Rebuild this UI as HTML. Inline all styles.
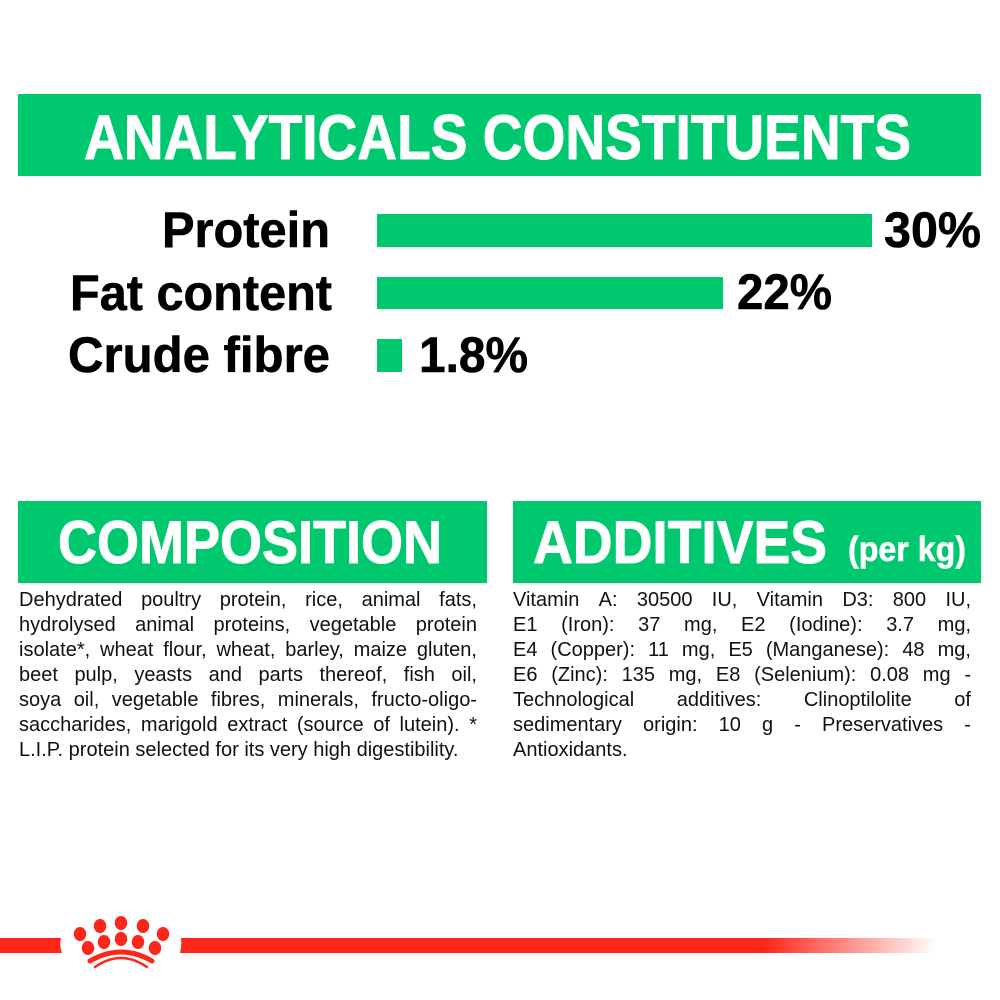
<!DOCTYPE html>
<html>
<head>
<meta charset="utf-8">
<style>
  html,body{margin:0;padding:0;background:#fff;}
  body{width:1000px;height:1000px;position:relative;overflow:hidden;font-family:"Liberation Sans",Arial,sans-serif;}
  svg{position:absolute;left:0;top:0;}
  .para{position:absolute;top:588px;width:458px;font-size:20px;line-height:25px;color:#111;}
  .ln{display:flex;justify-content:space-between;white-space:nowrap;height:25px;}
  .ln.last{justify-content:flex-start;}
</style>
</head>
<body>
<svg width="1000" height="1000" viewBox="0 0 1000 1000" xmlns="http://www.w3.org/2000/svg">
  <defs>
    <linearGradient id="fade" x1="180" y1="0" x2="937" y2="0" gradientUnits="userSpaceOnUse">
      <stop offset="0" stop-color="#fe2519" stop-opacity="1"/>
      <stop offset="0.771" stop-color="#fe2519" stop-opacity="1"/>
      <stop offset="1" stop-color="#fe2519" stop-opacity="0"/>
    </linearGradient>
  </defs>

  <!-- Header -->
  <rect x="18" y="94" width="963" height="82" fill="#00c86e"/>
  <text x="84" y="159" font-family="Liberation Sans, Arial, sans-serif" font-weight="bold" font-size="63" fill="#fff" stroke="#fff" stroke-width="1" stroke-linejoin="round" textLength="827" lengthAdjust="spacingAndGlyphs">ANALYTICALS CONSTITUENTS</text>

  <!-- Labels -->
  <g font-family="Liberation Sans, Arial, sans-serif" font-weight="bold" font-size="50" fill="#000" stroke="#000" stroke-width="0.6" stroke-linejoin="round">
    <text x="162" y="247" textLength="168" lengthAdjust="spacingAndGlyphs">Protein</text>
    <text x="70" y="310" textLength="262" lengthAdjust="spacingAndGlyphs">Fat content</text>
    <text x="68" y="372" textLength="262" lengthAdjust="spacingAndGlyphs">Crude fibre</text>
    <text x="884" y="247" textLength="97" lengthAdjust="spacingAndGlyphs">30%</text>
    <text x="737" y="309" textLength="95" lengthAdjust="spacingAndGlyphs">22%</text>
    <text x="419" y="372" textLength="109" lengthAdjust="spacingAndGlyphs">1.8%</text>
  </g>

  <!-- Bars -->
  <rect x="377" y="214" width="495" height="33" fill="#00c86e"/>
  <rect x="377" y="277" width="346" height="32" fill="#00c86e"/>
  <rect x="377" y="339" width="25" height="33" fill="#00c86e"/>

  <!-- Composition header -->
  <rect x="18" y="501" width="469" height="82" fill="#00c86e"/>
  <text x="58" y="563" font-family="Liberation Sans, Arial, sans-serif" font-weight="bold" font-size="60" fill="#fff" stroke="#fff" stroke-width="1" stroke-linejoin="round" textLength="384" lengthAdjust="spacingAndGlyphs">COMPOSITION</text>

  <!-- Additives header -->
  <rect x="513" y="501" width="468" height="82" fill="#00c86e"/>
  <text x="533" y="563" font-family="Liberation Sans, Arial, sans-serif" font-weight="bold" font-size="60" fill="#fff" stroke="#fff" stroke-width="1" stroke-linejoin="round" textLength="294" lengthAdjust="spacingAndGlyphs">ADDITIVES</text>
  <text x="848" y="561" font-family="Liberation Sans, Arial, sans-serif" font-weight="bold" font-size="35" fill="#fff" stroke="#fff" stroke-width="0.6" stroke-linejoin="round" textLength="118" lengthAdjust="spacingAndGlyphs">(per kg)</text>

  <!-- Footer bar -->
  <path d="M0 938 L61 938 Q59 945.5 62 953 L0 953 Z" fill="#fe2519"/>
  <path d="M181 938 L937 938 L937 953 L180 953 Q182 945.5 181 938 Z" fill="url(#fade)"/>

  <!-- Crown -->
  <g fill="#fe2519">
    <ellipse cx="121" cy="923" rx="6.2" ry="7"/>
    <ellipse cx="100" cy="926" rx="6.2" ry="7"/>
    <ellipse cx="143" cy="926" rx="6.2" ry="7"/>
    <ellipse cx="80" cy="934" rx="6.2" ry="7"/>
    <ellipse cx="163" cy="934" rx="6.2" ry="7"/>
    <ellipse cx="88" cy="948" rx="6.2" ry="7"/>
    <ellipse cx="104" cy="942" rx="6.2" ry="7"/>
    <ellipse cx="121" cy="939" rx="6.2" ry="7"/>
    <ellipse cx="138" cy="942" rx="6.2" ry="7"/>
    <ellipse cx="155" cy="948" rx="6.2" ry="7"/>
  </g>
  <path d="M90 961 Q121 943 152 961" fill="none" stroke="#fe2519" stroke-width="5" stroke-linecap="round"/>
  <path d="M95 967 Q121 949 147 967" fill="none" stroke="#fe2519" stroke-width="2.5" stroke-linecap="round"/>
</svg>

<div class="para" style="left:19px;">
  <div class="ln"><span>Dehydrated</span><span>poultry</span><span>protein,</span><span>rice,</span><span>animal</span><span>fats,</span></div>
  <div class="ln"><span>hydrolysed</span><span>animal</span><span>proteins,</span><span>vegetable</span><span>protein</span></div>
  <div class="ln"><span>isolate*,</span><span>wheat</span><span>flour,</span><span>wheat,</span><span>barley,</span><span>maize</span><span>gluten,</span></div>
  <div class="ln"><span>beet</span><span>pulp,</span><span>yeasts</span><span>and</span><span>parts</span><span>thereof,</span><span>fish</span><span>oil,</span></div>
  <div class="ln"><span>soya</span><span>oil,</span><span>vegetable</span><span>fibres,</span><span>minerals,</span><span>fructo-oligo-</span></div>
  <div class="ln"><span>saccharides,</span><span>marigold</span><span>extract</span><span>(source</span><span>of</span><span>lutein).</span><span>*</span></div>
  <div class="ln last">L.I.P. protein selected for its very high digestibility.</div>
</div>

<div class="para" style="left:513px;">
  <div class="ln"><span>Vitamin</span><span>A:</span><span>30500</span><span>IU,</span><span>Vitamin</span><span>D3:</span><span>800</span><span>IU,</span></div>
  <div class="ln"><span>E1</span><span>(Iron):</span><span>37</span><span>mg,</span><span>E2</span><span>(Iodine):</span><span>3.7</span><span>mg,</span></div>
  <div class="ln"><span>E4</span><span>(Copper):</span><span>11</span><span>mg,</span><span>E5</span><span>(Manganese):</span><span>48</span><span>mg,</span></div>
  <div class="ln"><span>E6</span><span>(Zinc):</span><span>135</span><span>mg,</span><span>E8</span><span>(Selenium):</span><span>0.08</span><span>mg</span><span>-</span></div>
  <div class="ln"><span>Technological</span><span>additives:</span><span>Clinoptilolite</span><span>of</span></div>
  <div class="ln"><span>sedimentary</span><span>origin:</span><span>10</span><span>g</span><span>-</span><span>Preservatives</span><span>-</span></div>
  <div class="ln last">Antioxidants.</div>
</div>
</body>
</html>
